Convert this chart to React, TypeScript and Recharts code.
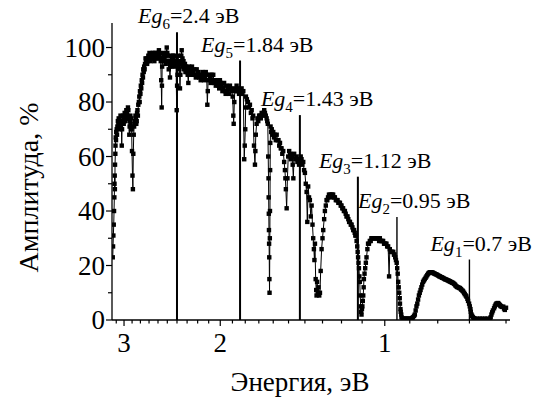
import { LineChart, Line, XAxis, YAxis, ReferenceLine, ReferenceDot } from 'recharts'

const FONT = 'Liberation Serif'

// спектр амплитуды, участками слева направо: [энергия, эВ; амплитуда, %]
const edgeRise: [number, number][] = [
  [3.146, 23], [3.142, 27], [3.138, 31], [3.133, 35], [3.129, 40], [3.125, 45],
  [3.123, 50], [3.12, 53], [3.118, 48], [3.116, 57], [3.112, 61], [3.11, 64],
  [3.107, 67], [3.103, 66], [3.1, 69], [3.094, 70], [3.09, 68], [3.085, 71],
  [3.079, 73], [3.073, 72], [3.068, 74], [3.062, 70], [3.056, 72], [3.051, 73],
  [3.045, 75], [3.04, 71], [3.035, 73], [3.029, 64], [3.025, 70], [3.02, 72],
  [3.015, 75], [3.009, 74], [3.004, 72], [2.998, 73], [2.992, 76], [2.987, 75],
  [2.981, 73], [2.976, 74], [2.971, 77], [2.966, 76], [2.961, 74], [2.956, 75],
  [2.951, 78], [2.946, 77], [2.94, 74], [2.934, 68], [2.93, 71], [2.925, 73],
  [2.921, 75], [2.917, 72], [2.913, 70], [2.909, 74], [2.905, 70], [2.901, 62],
  [2.895, 53], [2.89, 48], [2.885, 61], [2.88, 68], [2.875, 71], [2.869, 73],
  [2.864, 72], [2.859, 75], [2.854, 74], [2.849, 72], [2.844, 73], [2.84, 76],
  [2.835, 77], [2.83, 75], [2.825, 79], [2.818, 80], [2.813, 82], [2.809, 80],
  [2.805, 84], [2.8, 83], [2.795, 86], [2.79, 85], [2.784, 88], [2.78, 87],
  [2.775, 90], [2.77, 89], [2.766, 92], [2.761, 91], [2.756, 93], [2.751, 92],
  [2.746, 94], [2.74, 96], [2.733, 95],
]

const topBand: [number, number][] = [
  [2.727, 96], [2.722, 94], [2.715, 95], [2.708, 97], [2.7, 96], [2.695, 98],
  [2.689, 97], [2.684, 95], [2.677, 96], [2.67, 97], [2.662, 98], [2.656, 96],
  [2.652, 98], [2.646, 97], [2.64, 95], [2.635, 97], [2.63, 98], [2.622, 96],
  [2.614, 98], [2.607, 97], [2.6, 96], [2.595, 98], [2.59, 99], [2.584, 97],
  [2.578, 98], [2.573, 96], [2.57, 95], [2.565, 88], [2.56, 78], [2.557, 86],
  [2.555, 93], [2.55, 95], [2.545, 96], [2.54, 97], [2.535, 98], [2.53, 96],
  [2.524, 97], [2.518, 94], [2.515, 95], [2.51, 98], [2.506, 100], [2.5, 98],
  [2.495, 97], [2.49, 95], [2.485, 92], [2.478, 94], [2.472, 89], [2.468, 93],
  [2.465, 95], [2.46, 97], [2.455, 96], [2.45, 93], [2.445, 94], [2.441, 97],
  [2.438, 96], [2.432, 94], [2.425, 95], [2.42, 97], [2.415, 93], [2.41, 95],
  [2.403, 77], [2.399, 86], [2.395, 90], [2.391, 94], [2.388, 97], [2.384, 93],
  [2.38, 95], [2.375, 92], [2.37, 85], [2.366, 90], [2.362, 94], [2.357, 97],
  [2.353, 99], [2.349, 95], [2.345, 96], [2.34, 93], [2.335, 95], [2.328, 92],
  [2.321, 94], [2.316, 91], [2.31, 93], [2.305, 92], [2.3, 91], [2.294, 90],
  [2.288, 87], [2.284, 91], [2.28, 93], [2.275, 91], [2.27, 92], [2.262, 90],
  [2.253, 93], [2.247, 90], [2.24, 91], [2.232, 92], [2.225, 90], [2.217, 89],
  [2.209, 92], [2.202, 90], [2.195, 91], [2.186, 89], [2.178, 90], [2.172, 88],
  [2.165, 89], [2.156, 91], [2.148, 90], [2.142, 88], [2.135, 89], [2.126, 91],
  [2.118, 90], [2.112, 79], [2.108, 84], [2.105, 88], [2.097, 90], [2.089, 89],
  [2.082, 87], [2.075, 90], [2.068, 88], [2.06, 90], [2.052, 87], [2.045, 88],
  [2.038, 86], [2.03, 87], [2.022, 88], [2.015, 86], [2.009, 85], [2.003, 88],
  [1.997, 87], [1.99, 86], [1.982, 84], [1.975, 85], [1.968, 87], [1.961, 84],
  [1.955, 83], [1.95, 86], [1.942, 84], [1.935, 85], [1.927, 83], [1.92, 86],
  [1.912, 85], [1.905, 84], [1.898, 82], [1.893, 75], [1.89, 72], [1.885, 80],
  [1.88, 85], [1.873, 84], [1.867, 86], [1.861, 84], [1.855, 85], [1.848, 83],
  [1.84, 84], [1.834, 83], [1.828, 85], [1.822, 83], [1.815, 84],
]

const midBand: [number, number][] = [
  [1.808, 59], [1.804, 64], [1.8, 70], [1.797, 78], [1.795, 82], [1.788, 81],
  [1.78, 80], [1.772, 78], [1.765, 79], [1.758, 76], [1.752, 77], [1.746, 74],
  [1.741, 75], [1.735, 64], [1.728, 57], [1.725, 62], [1.722, 68], [1.716, 72],
  [1.71, 74], [1.704, 73], [1.698, 75], [1.692, 75], [1.686, 74], [1.68, 76],
  [1.674, 75], [1.668, 76], [1.662, 77], [1.657, 76], [1.651, 75], [1.645, 74],
  [1.641, 73], [1.637, 72], [1.634, 60], [1.632, 52], [1.631, 45], [1.63, 39],
  [1.629, 33], [1.628, 28], [1.627, 23], [1.626, 15], [1.625, 10], [1.623, 30],
  [1.622, 40], [1.621, 55], [1.62, 65], [1.618, 71], [1.614, 69], [1.61, 70],
  [1.605, 68], [1.6, 69], [1.595, 67], [1.59, 68], [1.583, 66], [1.577, 68],
  [1.571, 66], [1.565, 66], [1.56, 64], [1.555, 65], [1.55, 63], [1.545, 63],
  [1.54, 61], [1.534, 62], [1.528, 58], [1.523, 55], [1.52, 52], [1.517, 48],
  [1.512, 41], [1.507, 52], [1.502, 60], [1.496, 62], [1.49, 61], [1.485, 59],
  [1.479, 60], [1.474, 57], [1.47, 52], [1.465, 61], [1.458, 59], [1.45, 60],
  [1.445, 58], [1.44, 59], [1.435, 57], [1.43, 58], [1.425, 60], [1.42, 59],
  [1.415, 57], [1.41, 58], [1.405, 55], [1.4, 54], [1.395, 50], [1.39, 47],
  [1.386, 36], [1.381, 49], [1.376, 45], [1.371, 44], [1.366, 38], [1.361, 42],
  [1.356, 35], [1.352, 30], [1.348, 26], [1.345, 22], [1.342, 28], [1.338, 15],
  [1.335, 11], [1.333, 9], [1.33, 14], [1.326, 10], [1.322, 12], [1.318, 9],
  [1.314, 10], [1.31, 18], [1.305, 26], [1.3, 30], [1.296, 33], [1.291, 37],
  [1.287, 40], [1.282, 42], [1.278, 44], [1.274, 44], [1.27, 45], [1.265, 46],
  [1.26, 46], [1.256, 45], [1.252, 46], [1.247, 46], [1.243, 46], [1.238, 45],
  [1.234, 45], [1.229, 44], [1.225, 44], [1.22, 44], [1.216, 43], [1.212, 43],
  [1.208, 43], [1.204, 42], [1.2, 42], [1.196, 41], [1.192, 41], [1.188, 40],
  [1.183, 40], [1.179, 39], [1.175, 38], [1.17, 38], [1.166, 37], [1.162, 36],
  [1.158, 36], [1.154, 35], [1.15, 35], [1.146, 34], [1.142, 33], [1.138, 33],
  [1.135, 32], [1.132, 31], [1.129, 31], [1.126, 29], [1.123, 27], [1.121, 25],
  [1.119, 23], [1.117, 21], [1.115, 19], [1.113, 16], [1.111, 14], [1.109, 9],
  [1.107, 5], [1.105, 3], [1.103, 2],
]

const lowBand: [number, number][] = [
  [1.101, 4], [1.099, 5], [1.097, 7], [1.095, 9], [1.093, 12], [1.092, 15],
  [1.089, 17], [1.086, 19], [1.083, 21], [1.08, 23], [1.076, 26], [1.073, 28],
  [1.069, 28], [1.065, 29], [1.061, 29], [1.058, 30], [1.054, 30], [1.05, 30],
  [1.046, 30], [1.043, 30], [1.039, 30], [1.035, 30], [1.031, 30], [1.028, 30],
  [1.024, 29], [1.021, 30], [1.017, 29], [1.014, 29], [1.01, 29], [1.007, 29],
  [1.003, 28], [1.0, 28], [0.997, 28], [0.993, 28], [0.99, 27], [0.986, 27],
  [0.982, 16], [0.979, 26], [0.976, 25], [0.972, 25], [0.969, 25], [0.965, 25],
  [0.962, 24], [0.96, 24], [0.957, 23], [0.954, 22], [0.951, 21], [0.949, 19],
  [0.947, 17], [0.945, 14], [0.943, 12], [0.941, 10], [0.939, 8], [0.938, 6],
  [0.936, 4], [0.935, 3], [0.933, 2], [0.932, 1], [0.928, 0.5], [0.925, 0.5],
  [0.919, 0.5], [0.914, 0.5], [0.91, 0.5], [0.905, 0.5], [0.9, 0.5], [0.894, 0.5],
  [0.891, 0.7], [0.888, 1], [0.884, 1.5], [0.881, 2], [0.878, 3.5], [0.875, 5],
  [0.872, 6], [0.869, 7.5], [0.866, 9], [0.863, 10], [0.86, 11], [0.857, 12],
  [0.854, 13], [0.851, 14], [0.848, 14.5], [0.845, 15], [0.842, 15.5], [0.839, 16],
  [0.836, 16.5], [0.833, 17], [0.83, 17.3], [0.827, 17.5], [0.824, 17.5], [0.821, 17.5],
  [0.818, 17.4], [0.816, 17.3], [0.813, 17.1], [0.81, 17], [0.807, 16.8], [0.804, 16.7],
  [0.801, 16.5], [0.798, 16.3], [0.795, 16.1], [0.793, 16], [0.79, 15.8], [0.787, 15.7],
  [0.785, 15.5], [0.782, 15.4], [0.779, 15.2], [0.776, 15], [0.774, 14.9], [0.771, 14.8],
  [0.768, 14.6], [0.765, 14.5], [0.763, 14.3], [0.76, 14.2], [0.758, 14], [0.755, 13.9],
  [0.753, 13.7], [0.75, 13.6], [0.747, 13.3], [0.744, 13], [0.742, 12.6], [0.739, 12.3],
  [0.737, 12.1], [0.734, 12], [0.731, 11.8], [0.729, 11.7], [0.726, 11.4], [0.724, 11.1],
  [0.721, 10.8], [0.719, 10.5], [0.716, 10], [0.714, 9.5], [0.711, 9], [0.709, 8.6],
  [0.706, 7.8], [0.704, 7], [0.701, 6], [0.699, 5], [0.697, 4], [0.696, 3],
  [0.694, 2], [0.692, 1.5], [0.69, 1], [0.687, 0.7], [0.684, 0.5], [0.677, 0.5],
  [0.67, 0.5], [0.663, 0.5], [0.656, 0.5], [0.649, 0.5], [0.642, 0.5], [0.64, 1],
  [0.638, 2], [0.636, 2.8], [0.634, 3.5], [0.631, 4.3], [0.629, 5], [0.627, 5.6],
  [0.625, 6], [0.622, 6.2], [0.62, 6.2], [0.618, 5.8], [0.616, 5.5], [0.614, 5.2],
  [0.613, 5], [0.61, 4.8], [0.607, 4.9], [0.605, 4.2], [0.603, 3.7], [0.6, 4.5],
]

const spectrum = [...edgeRise, ...topBand, ...midBand, ...lowBand].map(([e, a]) => ({ e, a }))

const xTicks = [
  3.1, 3.0, 2.9, 2.8, 2.7, 2.6, 2.5, 2.4, 2.3, 2.2, 2.1, 2.0, 1.9, 1.8, 1.7,
  1.6, 1.5, 1.4, 1.3, 1.2, 1.1, 1.0, 0.9, 0.8, 0.7, 0.6,
]
const xMajor = [3, 2, 1]
const yTicks = [0, 10, 20, 30, 40, 50, 60, 70, 80, 90, 100]
const yMajor = [0, 20, 40, 60, 80, 100]

// ширины запрещённых зон
const egIndex = [6, 5, 4, 3, 2, 1]
const egValues = [2.4, 1.84, 1.43, 1.12, 0.95, 0.7]
const egText = ['2.4', '1.84', '1.43', '1.12', '0.95', '0.7']
const egTops = [105.6, 95.2, 75.2, 52.6, 37.8, 22.2]

const isIn = (list: number[], v: number) => list.some(m => Math.abs(m - v) < 1e-6)

// шрифт ставим через !important, иначе что-то его перебивает
const forceSerif = (el: SVGTextElement | null) => {
  if (el) el.style.setProperty('font-family', FONT, 'important')
}

function XTick(props: any) {
  const { x, y, payload } = props
  const major = isIn(xMajor, payload.value)
  return (
    <g>
      <line x1={x} x2={x} y1={y} y2={y + (major ? 6 : 3.5)} stroke="#000" strokeWidth={1.2} />
      {major && (
        <text ref={forceSerif} x={x} y={y + 32} textAnchor="middle" fontFamily={FONT} fontSize={27} fill="#000">
          {payload.value}
        </text>
      )}
    </g>
  )
}

function YTick(props: any) {
  const { x, y, payload } = props
  const major = isIn(yMajor, payload.value)
  return (
    <g>
      <line x1={x} x2={x - (major ? 6 : 4)} y1={y} y2={y} stroke="#000" strokeWidth={1.2} />
      {major && (
        <text ref={forceSerif} x={x - 7} y={y + 9} textAnchor="end" fontFamily={FONT} fontSize={27} fill="#000">
          {payload.value}
        </text>
      )}
    </g>
  )
}

function EgLabel({ cx, cy, n, text }: { cx: number; cy: number; n: number; text: string }) {
  return (
    <text ref={forceSerif} x={cx - 39} y={cy - 9} fontFamily={FONT} fontSize={22} fill="#000">
      <tspan fontStyle="italic">Eg</tspan>
      <tspan fontSize={15} dy={6}>{n}</tspan>
      <tspan dy={-6}>={text} эВ</tspan>
    </text>
  )
}

const SquareDot = (p: any) => (
  <rect key={`d-${p.index}`} x={p.cx - 2.2} y={p.cy - 2.2} width={4.4} height={4.4} fill="#000" />
)

export default function App() {
  return (
    <div style={{ position: 'absolute', left: 0, top: 0, width: 541, height: 403, background: '#fff' }}>
      <LineChart width={541} height={403} data={spectrum} margin={{ top: 23, right: 31, bottom: 0, left: 0 }}>
        <XAxis
          dataKey="e"
          type="number"
          scale="log"
          domain={[0.59, 3.156]}
          allowDataOverflow
          reversed
          ticks={xTicks}
          interval={0}
          tickSize={0}
          tickMargin={0}
          tickLine={false}
          tick={(p: any) => <XTick {...p} />}
          height={83}
          axisLine={{ stroke: '#000', strokeWidth: 1.3 }}
          label={{
            content: ({ viewBox }: any) => (
              <text
                ref={forceSerif}
                x={viewBox.x + viewBox.width / 2 - 11}
                y={viewBox.y + 71}
                textAnchor="middle"
                fontFamily={FONT}
                fontSize={27}
                fill="#000"
              >
                Энергия, эВ
              </text>
            ),
          }}
        />
        <YAxis
          type="number"
          domain={[0, 109]}
          allowDataOverflow
          ticks={yTicks}
          interval={0}
          tickSize={0}
          tickMargin={0}
          tickLine={false}
          tick={(p: any) => <YTick {...p} />}
          width={112}
          axisLine={{ stroke: '#000', strokeWidth: 1.3 }}
          label={{
            content: ({ viewBox }: any) => (
              <text
                ref={forceSerif}
                transform={`translate(${viewBox.x + 38}, ${viewBox.y + viewBox.height / 2 + 16}) rotate(-90)`}
                textAnchor="middle"
                fontFamily={FONT}
                fontSize={28}
                fill="#000"
              >
                Амплитуда, %
              </text>
            ),
          }}
        />
        {egValues.map((v, i) => (
          <ReferenceLine
            key={`eg-${i}`}
            segment={[{ x: v, y: 0 }, { x: v, y: egTops[i] }]}
            stroke="#000"
            strokeWidth={i < 4 ? 2 : 1.4}
          />
        ))}
        {egValues.map((v, i) => (
          <ReferenceDot
            key={`egl-${i}`}
            x={v}
            y={egTops[i]}
            r={0}
            shape={(p: any) => <EgLabel cx={p.cx} cy={p.cy} n={egIndex[i]} text={egText[i]} />}
          />
        ))}
        <Line
          type="linear"
          dataKey="a"
          stroke="#000"
          strokeWidth={1}
          dot={SquareDot}
          activeDot={false}
          isAnimationActive={false}
        />
      </LineChart>
    </div>
  )
}
